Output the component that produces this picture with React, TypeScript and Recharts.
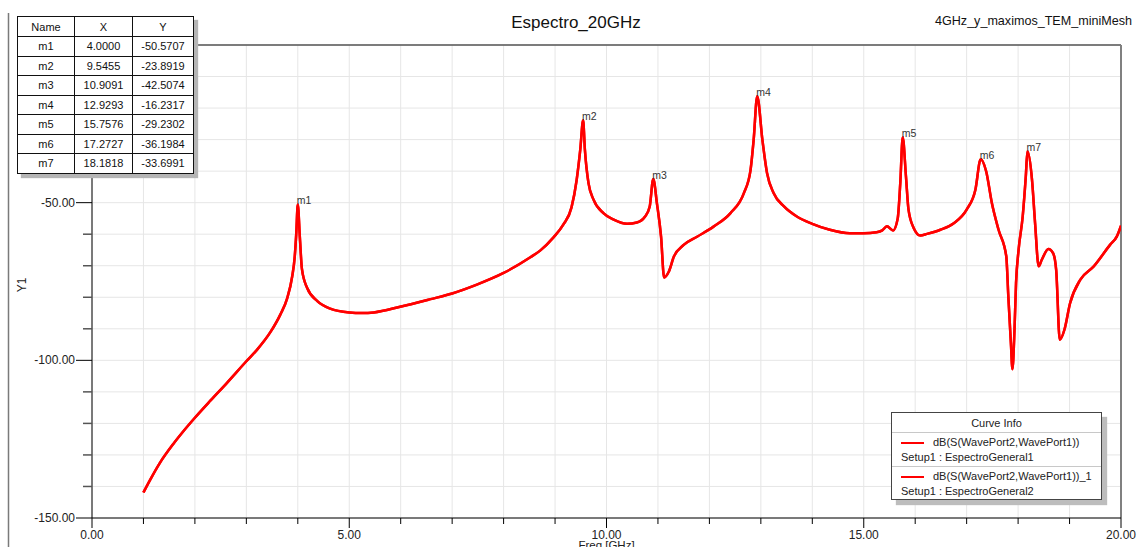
import React from 'react';
import {
  LineChart,
  Line,
  XAxis,
  YAxis,
  CartesianGrid,
  ReferenceLine,
  ReferenceDot,
} from 'recharts';

const FONT = '"Liberation Sans", Arial, Helvetica, sans-serif';

// Frequency sweep (GHz) and transmission |S21| in dB
const freqGHz = [
  1.0, 1.13, 1.32, 1.58, 1.78, 2.0, 2.3, 2.62, 3.0, 3.21, 3.47, 3.66, 3.79, 3.89, 3.94, 3.97,
  4.0, 4.04, 4.08, 4.18, 4.38, 4.63, 5.0, 5.25, 5.48, 5.99, 6.58, 7.0, 7.48, 8.0, 8.52, 8.71, 8.97,
  9.16, 9.32, 9.42, 9.49, 9.5455, 9.58, 9.65, 9.75, 9.94, 10.14, 10.4, 10.59, 10.75, 10.84,
  10.9091, 10.98, 11.06, 11.12, 11.21, 11.31, 11.5, 11.76, 12.08, 12.41, 12.67, 12.8, 12.86,
  12.9293, 13.03, 13.12, 13.25, 13.45, 13.7, 14.0, 14.34, 14.73, 15.0, 15.25, 15.36, 15.45,
  15.57, 15.66, 15.71, 15.7576, 15.82, 15.87, 15.97, 16.1, 16.23, 16.49, 16.75, 17.0, 17.17,
  17.2727, 17.38, 17.49, 17.62, 17.77, 17.81, 17.86, 17.89, 17.93, 17.96, 18.01, 18.09, 18.15,
  18.1818, 18.27, 18.33, 18.4, 18.46, 18.59, 18.68, 18.74, 18.81, 18.9, 19.01, 19.21, 19.47,
  19.79, 19.92, 20.0,
];

const s21Db = [
  -141.9, -137.9, -132.5, -126.5, -122.4, -118.2, -112.8, -107.2, -100.3, -96.6, -91.0, -85.5,
  -80.5, -73.5, -67.2, -59.8,
  -50.5707, -61.0, -71.0, -77.0, -81.2, -83.6, -84.8, -85.0, -84.8, -83.0, -80.6, -78.8, -76.0,
  -72.3, -67.3, -65.2, -61.0,
  -57.0, -51.5, -42.8, -33.2, -23.8919, -33.2, -43.8, -49.1, -53.3, -55.4, -56.7, -56.3, -54.4,
  -51.2,
  -42.5074, -50.2, -60.7, -73.7, -71.9, -67.1, -63.4, -60.8, -57.6, -53.3, -47.0, -39.6, -30.1,
  -16.2317, -30.1, -40.6, -47.0, -51.2, -54.4, -56.7, -58.6, -59.7, -59.7, -59.4, -58.8, -57.5,
  -58.8, -55.0, -43.8, -29.2302, -41.6, -52.2, -58.0, -60.4, -59.9, -58.6, -56.5, -52.2, -45.9,
  -36.1984, -40.1, -50.1, -58.6, -67.0, -79.7, -94.6, -102.8, -90.3, -75.5, -64.9, -54.3, -41.6,
  -33.6991, -42.7, -56.5, -70.2, -68.1, -64.7, -66.0, -71.3, -93.5, -90.3, -81.9, -74.4, -70.2,
  -63.3, -60.7, -57.3,
];

// Marker table
const markerNames = ['m1', 'm2', 'm3', 'm4', 'm5', 'm6', 'm7'];
const markerX = [4.0, 9.5455, 10.9091, 12.9293, 15.7576, 17.2727, 18.1818];
const markerY = [-50.5707, -23.8919, -42.5074, -16.2317, -29.2302, -36.1984, -33.6991];

// Axis ticks
const xTicks = [0, 1, 2, 3, 4, 5, 6, 7, 8, 9, 10, 11, 12, 13, 14, 15, 16, 17, 18, 19, 20];
const xLabeled = [0, 5, 10, 15, 20];
const yTicks = [-150, -140, -130, -120, -110, -100, -90, -80, -70, -60, -50, -40, -30, -20, -10, 0];
const yLabeled = [-150, -100, -50];

// Curve info entries
const curveNames = ['dB(S(WavePort2,WavePort1))', 'dB(S(WavePort2,WavePort1))_1'];
const curveSetups = ['Setup1 : EspectroGeneral1', 'Setup1 : EspectroGeneral2'];

// Both setups give the same trace, so the two series share the values
const rows = freqGHz.map((f, i) => ({ f, g1: s21Db[i], g2: s21Db[i] }));

function XTick(props: any) {
  const { x, y, payload } = props;
  const v = payload.value as number;
  const major = xLabeled.includes(v);
  return (
    <g>
      <line x1={x} x2={x} y1={y} y2={y + (major ? 10 : 6)} stroke="#000" strokeWidth={1} />
      {major && (
        <text x={x} y={y + 20.5} textAnchor="middle" fontSize={12} fill="#222" fontFamily={FONT}>
          {v.toFixed(2)}
        </text>
      )}
    </g>
  );
}

function YTick(props: any) {
  const { x, y, payload } = props;
  const v = payload.value as number;
  const major = yLabeled.includes(v);
  return (
    <g>
      <line
        x1={x - (major ? 16 : 9)}
        x2={x}
        y1={y}
        y2={y}
        stroke={major ? '#000' : '#555'}
        strokeWidth={major ? 1 : 1.5}
      />
      {major && (
        <text x={x - 17} y={y + 4} textAnchor="end" fontSize={12} fill="#222" fontFamily={FONT}>
          {v.toFixed(2)}
        </text>
      )}
    </g>
  );
}

function markerLabel(name: string) {
  return (p: any) => {
    const vb = p.viewBox || { x: p.x, y: p.y };
    return (
      <text x={vb.x} y={vb.y + 1} fontSize={10.5} fill="#333" fontFamily={FONT}>
        {name}
      </text>
    );
  };
}

function MarkerTable() {
  const colW = [57, 58, 61];
  const cell: React.CSSProperties = {
    border: '1px solid #111',
    padding: 0,
    textAlign: 'center',
    verticalAlign: 'middle',
    color: '#111',
  };
  return (
    <table
      style={{
        position: 'absolute',
        left: 17,
        top: 16,
        borderCollapse: 'collapse',
        tableLayout: 'fixed',
        width: 176,
        background: '#fff',
        border: '1.5px solid #000',
        fontFamily: FONT,
        fontSize: 11,
        boxShadow: '4px 4px 1px #b5b5b5',
      }}
    >
      <colgroup>
        {colW.map((w, i) => (
          <col key={i} style={{ width: w }} />
        ))}
      </colgroup>
      <tbody>
        <tr style={{ height: 20 }}>
          <td style={cell}>Name</td>
          <td style={cell}>X</td>
          <td style={cell}>Y</td>
        </tr>
        {markerNames.map((n, i) => (
          <tr key={n} style={{ height: 19.5 }}>
            <td style={cell}>{n}</td>
            <td style={cell}>{markerX[i].toFixed(4)}</td>
            <td style={cell}>{markerY[i].toFixed(4)}</td>
          </tr>
        ))}
      </tbody>
    </table>
  );
}

function CurveInfo() {
  const txt: React.CSSProperties = {
    position: 'absolute',
    fontFamily: FONT,
    fontSize: 11,
    lineHeight: '13px',
    color: '#222',
    whiteSpace: 'nowrap',
  };
  return (
    <div
      style={{
        position: 'absolute',
        left: 891,
        top: 412,
        width: 211,
        height: 88,
        boxSizing: 'border-box',
        border: '1px solid #444',
        background: '#fff',
        boxShadow: '5px 5px 1px #bdbdbd',
      }}
    >
      <div style={{ ...txt, left: 0, width: 209, top: 4, textAlign: 'center' }}>Curve Info</div>
      <div style={{ position: 'absolute', left: 0, width: 209, top: 19, height: 1, background: '#c8c8c8' }} />
      <div style={{ position: 'absolute', left: 0, width: 209, top: 53, height: 1, background: '#c8c8c8' }} />
      {curveNames.map((name, i) => {
        const base = i * 34;
        return (
          <React.Fragment key={name}>
            <div style={{ position: 'absolute', left: 9, top: base + 28.5, width: 23, height: 2, background: '#ff0000' }} />
            <div style={{ ...txt, left: 41, top: base + 23 }}>{name}</div>
            <div style={{ ...txt, left: 9, top: base + 38 }}>{curveSetups[i]}</div>
          </React.Fragment>
        );
      })}
    </div>
  );
}

export default function App() {
  return (
    <div
      style={{
        position: 'fixed',
        left: 0,
        top: 0,
        width: 1137,
        height: 547,
        background: '#fff',
        overflow: 'hidden',
      }}
    >
      <LineChart
        width={1137}
        height={547}
        data={rows}
        margin={{ top: 45, right: 16, bottom: 0, left: 8 }}
      >
        <CartesianGrid stroke="#e6e6e6" strokeWidth={1} />
        <XAxis
          dataKey="f"
          type="number"
          domain={[0, 20]}
          ticks={xTicks}
          interval={0}
          tick={<XTick />}
          tickLine={false}
          tickSize={0}
          tickMargin={0}
          height={29}
          axisLine={{ stroke: '#000', strokeWidth: 1 }}
          allowDataOverflow
        />
        <YAxis
          type="number"
          domain={[-150, 0]}
          ticks={yTicks}
          interval={0}
          tick={<YTick />}
          tickLine={false}
          tickSize={0}
          tickMargin={0}
          width={84}
          axisLine={{ stroke: '#000', strokeWidth: 1 }}
          allowDataOverflow
        />
        <ReferenceLine y={0} stroke="#555" strokeWidth={1.5} />
        <ReferenceLine x={20} stroke="#808080" strokeWidth={2} />
        <Line
          dataKey="g1"
          type="monotoneX"
          stroke="#ff0000"
          strokeWidth={2.5}
          dot={false}
          isAnimationActive={false}
        />
        <Line
          dataKey="g2"
          type="monotoneX"
          stroke="#ff0000"
          strokeWidth={2.5}
          dot={false}
          isAnimationActive={false}
        />
        {markerNames.map((n, i) => (
          <ReferenceDot
            key={n}
            x={markerX[i]}
            y={markerY[i]}
            r={1}
            fill="none"
            stroke="none"
            label={markerLabel(n)}
          />
        ))}
      </LineChart>

      <svg
        width={1137}
        height={547}
        style={{ position: 'absolute', left: 0, top: 0, pointerEvents: 'none' }}
      >
        <line x1={8.5} x2={8.5} y1={13} y2={547} stroke="#7a7a7a" strokeWidth={1.5} />
        <text x={576} y={28} textAnchor="middle" fontSize={17} fill="#111" fontFamily={FONT}>
          Espectro_20GHz
        </text>
        <text
          x={935}
          y={25}
          fontSize={13.5}
          fill="#111"
          fontFamily={FONT}
          textLength={197}
          lengthAdjust="spacingAndGlyphs"
        >
          4GHz_y_maximos_TEM_miniMesh
        </text>
        <text
          transform="translate(22,285) rotate(-90)"
          textAnchor="middle"
          dominantBaseline="central"
          fontSize={12}
          fill="#222"
          fontFamily={FONT}
        >
          Y1
        </text>
        <text x={606.5} y={549} textAnchor="middle" fontSize={11.5} fill="#222" fontFamily={FONT}>
          Freq [GHz]
        </text>
      </svg>

      <MarkerTable />
      <CurveInfo />
    </div>
  );
}
